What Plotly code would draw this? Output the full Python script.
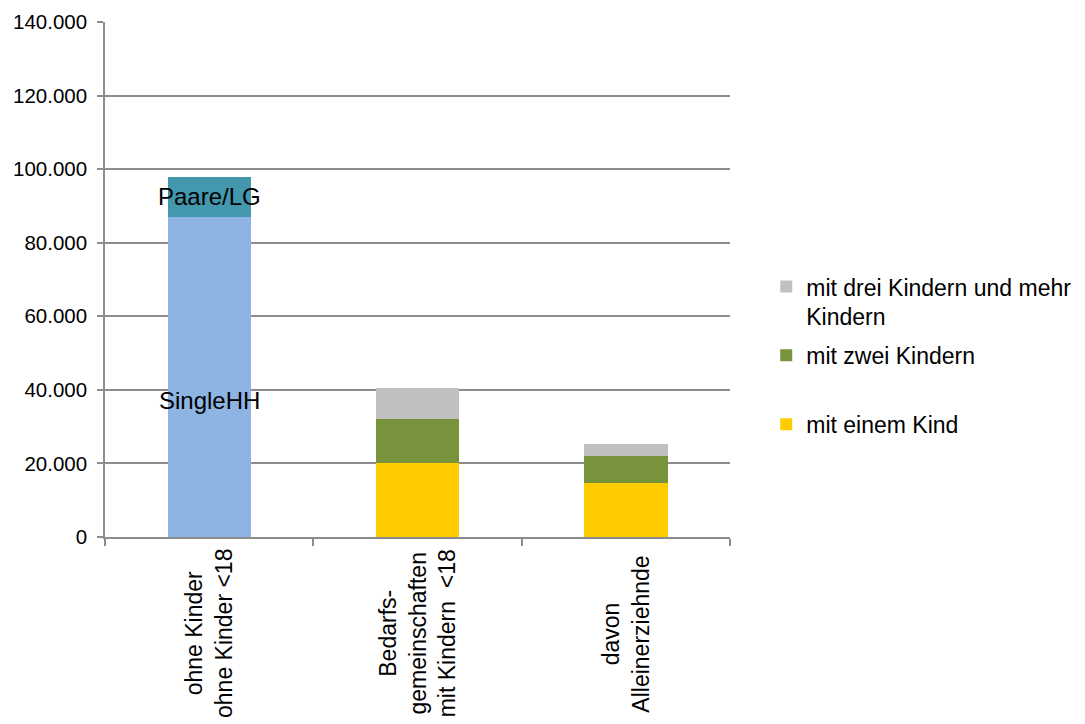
import plotly.graph_objects as go

# Categories (x axis) and their multi-line labels
categories = ["ohne", "mit", "allein"]
category_labels = [
    "ohne Kinder<br>ohne Kinder <18",
    "Bedarfs-<br>gemeinschaften<br>mit Kindern  <18",
    "davon<br>Alleinerziehnde",
]

# Households without children
single_hh = [87000, None, None]
paare_lg = [11000, None, None]

# Households with children under 18
ein_kind = [None, 20000, 14700]
zwei_kinder = [None, 12000, 7300]
drei_kinder = [None, 8500, 3300]

y_ticks = [0, 20000, 40000, 60000, 80000, 100000, 120000, 140000]

FONT = "Liberation Sans, Arial, sans-serif"
GRID = "#8C8C8C"

fig = go.Figure()

fig.add_trace(go.Bar(x=categories, y=single_hh, name="SingleHH",
                     marker=dict(color="#8DB4E2", line=dict(width=0)),
                     showlegend=False, hoverinfo="skip"))
fig.add_trace(go.Bar(x=categories, y=paare_lg, name="Paare/LG",
                     marker=dict(color="#4398AE", line=dict(width=0)),
                     showlegend=False, hoverinfo="skip"))
fig.add_trace(go.Bar(x=categories, y=ein_kind, name="mit einem Kind",
                     marker=dict(color="#FFCC00", line=dict(width=0)),
                     legendgroup="g1", legendrank=3))
fig.add_trace(go.Bar(x=categories, y=zwei_kinder, name="mit zwei Kindern<br> ",
                     marker=dict(color="#77933C", line=dict(width=0)),
                     legendgroup="g2", legendrank=2))
fig.add_trace(go.Bar(x=categories, y=drei_kinder,
                     name="mit drei Kindern und mehr<br>Kindern",
                     marker=dict(color="#C0C0C0", line=dict(width=0)),
                     legendgroup="g3", legendrank=1))

# Series names written inside the first bar
fig.add_annotation(x=categories[0], y=single_hh[0] + paare_lg[0] / 2,
                   text="Paare/LG", showarrow=False,
                   font=dict(family=FONT, size=24, color="#000000"))
fig.add_annotation(x=categories[0], y=37000, text="SingleHH", showarrow=False,
                   font=dict(family=FONT, size=24, color="#000000"))

# Rotated category labels below the axis
for cat, label in zip(categories, category_labels):
    fig.add_annotation(x=cat, xref="x", y=-0.188, yref="paper",
                       text=label, textangle=-90, showarrow=False,
                       align="center", xanchor="center", yanchor="middle",
                       font=dict(family=FONT, size=23, color="#000000"))

fig.update_layout(
    width=1085, height=724,
    margin=dict(l=105, r=355, t=22, b=187, autoexpand=False),
    paper_bgcolor="white", plot_bgcolor="white",
    barmode="stack", bargap=0.6,
    separators=",.",
    font=dict(family=FONT, color="#000000"),
    showlegend=True,
    legend=dict(
        x=1.058, xanchor="left", y=0.528, yanchor="top",
        traceorder="grouped", tracegroupgap=6,
        valign="top",
        font=dict(family=FONT, size=23, color="#000000"),
        bgcolor="rgba(0,0,0,0)",
    ),
)

fig.update_xaxes(
    type="category", range=[-0.5, 2.5],
    showticklabels=False, showgrid=False,
    ticks="outside", tickson="boundaries", ticklen=7, tickcolor=GRID, tickwidth=1.5,
    showline=True, linecolor=GRID, linewidth=1.5,
)
fig.update_yaxes(
    range=[0, 140000], tickvals=y_ticks, tickformat=",d",
    showgrid=True, gridcolor=GRID, gridwidth=1.5,
    ticks="outside", ticklen=6, tickcolor=GRID, tickwidth=1.5,
    showline=True, linecolor=GRID, linewidth=1.5,
    zeroline=False,
    tickfont=dict(family=FONT, size=20.5, color="#000000"),
    ticklabelstandoff=6,
)

fig.write_html("out.html")
